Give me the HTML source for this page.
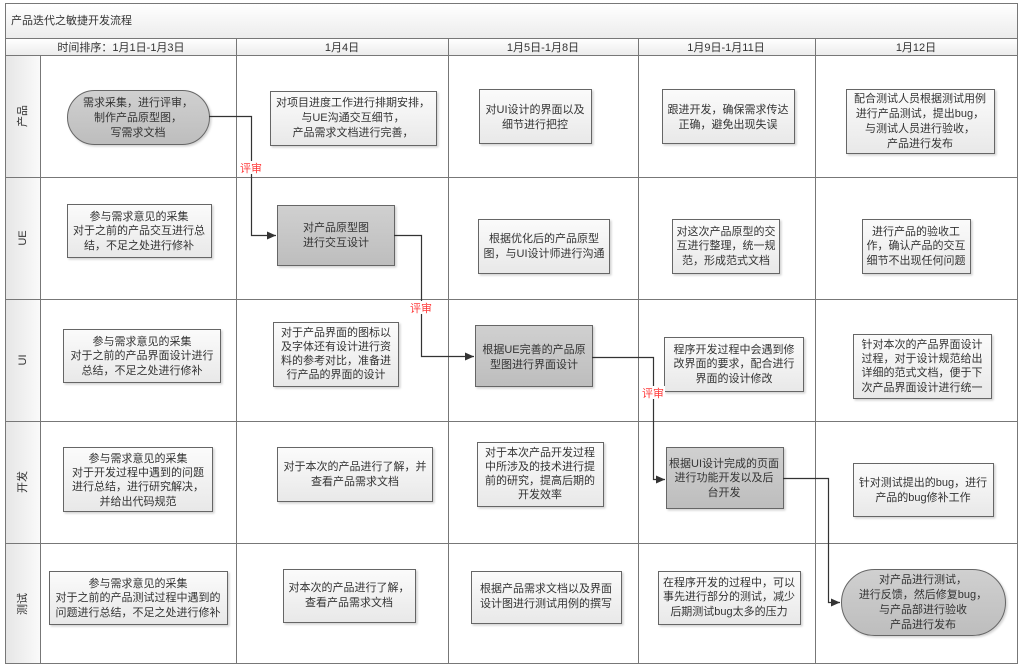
<!DOCTYPE html>
<html><head><meta charset="utf-8">
<style>
html,body{margin:0;padding:0;background:#fff;}
svg{display:block;}
text{font-family:"Liberation Sans","Noto Sans CJK SC",sans-serif;font-size:11px;fill:#333;}
</style></head><body>
<svg width="1024" height="669" viewBox="0 0 1024 669" xmlns="http://www.w3.org/2000/svg">
<defs>
<linearGradient id="tg" x1="0" y1="0" x2="0" y2="1"><stop offset="0" stop-color="#ffffff"/><stop offset="1" stop-color="#ececec"/></linearGradient>
<linearGradient id="lg" x1="0" y1="0" x2="1" y2="0"><stop offset="0" stop-color="#e6e6e6"/><stop offset="1" stop-color="#fafafa"/></linearGradient>
<linearGradient id="bg" x1="0" y1="0" x2="0" y2="1"><stop offset="0" stop-color="#fbfbfb"/><stop offset="1" stop-color="#e8e8e8"/></linearGradient>
<linearGradient id="gg" x1="0" y1="0" x2="0" y2="1"><stop offset="0" stop-color="#d0d0d0"/><stop offset="1" stop-color="#bdbdbd"/></linearGradient>
<filter id="sh" x="-10%" y="-10%" width="130%" height="140%"><feDropShadow dx="1.5" dy="1.5" stdDeviation="1" flood-color="#000" flood-opacity="0.18"/></filter>
<marker id="ar" markerWidth="10" markerHeight="10" refX="9" refY="5" orient="auto" markerUnits="userSpaceOnUse"><path d="M0,1 L9,5 L0,9 z" fill="#333"/></marker>
</defs>
<!-- frame -->
<rect x="5.5" y="3.5" width="1012" height="660" fill="#fff" stroke="#777"/>
<rect x="6" y="4" width="1011" height="34" fill="url(#tg)"/>
<text x="11" y="24" font-size="12">产品迭代之敏捷开发流程</text>
<rect x="6" y="39" width="1011" height="16" fill="url(#tg)"/>
<rect x="6" y="55" width="34" height="608" fill="url(#lg)"/>
<g stroke="#777" stroke-width="1" fill="none">
<line x1="5" y1="38.5" x2="1018" y2="38.5"/>
<line x1="5" y1="55.5" x2="1018" y2="55.5"/>
<line x1="5" y1="177.5" x2="1018" y2="177.5"/>
<line x1="5" y1="299.5" x2="1018" y2="299.5"/>
<line x1="5" y1="421.5" x2="1018" y2="421.5"/>
<line x1="5" y1="543.5" x2="1018" y2="543.5"/>
<line x1="40.5" y1="55" x2="40.5" y2="664"/>
<line x1="236.5" y1="38" x2="236.5" y2="664"/>
<line x1="448.5" y1="38" x2="448.5" y2="664"/>
<line x1="638.5" y1="38" x2="638.5" y2="664"/>
<line x1="815.5" y1="38" x2="815.5" y2="664"/>
</g>
<g text-anchor="middle">
<text x="121" y="51">时间排序：1月1日-1月3日</text>
<text x="342" y="51">1月4日</text>
<text x="543" y="51">1月5日-1月8日</text>
<text x="726" y="51">1月9日-1月11日</text>
<text x="916" y="51">1月12日</text>
<text transform="translate(26,116) rotate(-90)">产品</text>
<text transform="translate(26,238) rotate(-90)">UE</text>
<text transform="translate(26,360) rotate(-90)">UI</text>
<text transform="translate(26,482) rotate(-90)">开发</text>
<text transform="translate(26,604) rotate(-90)">测试</text>
</g>

<!-- boxes -->
<g stroke="#666" stroke-width="1" filter="url(#sh)">
<rect x="67.5" y="90.5" width="142" height="54" rx="27" fill="url(#gg)"/>
<rect x="270.5" y="91.5" width="166" height="54" fill="url(#bg)"/>
<rect x="479.5" y="89.5" width="112" height="54" fill="url(#bg)"/>
<rect x="662.5" y="89.5" width="132" height="54" fill="url(#bg)"/>
<rect x="846.5" y="89.5" width="148" height="64" fill="url(#bg)"/>

<rect x="67.5" y="204.5" width="144" height="53" fill="url(#bg)"/>
<rect x="277.5" y="205.5" width="117" height="60" fill="url(#gg)"/>
<rect x="478.5" y="219.5" width="131" height="54" fill="url(#bg)"/>
<rect x="672.5" y="219.5" width="107" height="54" fill="url(#bg)"/>
<rect x="862.5" y="219.5" width="108" height="54" fill="url(#bg)"/>

<rect x="63.5" y="329.5" width="157" height="53" fill="url(#bg)"/>
<rect x="273.5" y="322.5" width="125" height="64" fill="url(#bg)"/>
<rect x="475.5" y="325.5" width="117" height="61" fill="url(#gg)"/>
<rect x="664.5" y="337.5" width="139" height="54" fill="url(#bg)"/>
<rect x="853.5" y="334.5" width="138" height="64" fill="url(#bg)"/>

<rect x="63.5" y="447.5" width="149" height="64" fill="url(#bg)"/>
<rect x="277.5" y="447.5" width="155" height="54" fill="url(#bg)"/>
<rect x="477.5" y="442.5" width="126" height="64" fill="url(#bg)"/>
<rect x="666.5" y="447.5" width="117" height="61" fill="url(#gg)"/>
<rect x="853.5" y="463.5" width="140" height="53" fill="url(#bg)"/>

<rect x="49.5" y="571.5" width="178" height="53" fill="url(#bg)"/>
<rect x="283.5" y="569.5" width="132" height="53" fill="url(#bg)"/>
<rect x="471.5" y="571.5" width="150" height="52" fill="url(#bg)"/>
<rect x="658.5" y="571.5" width="142" height="53" fill="url(#bg)"/>
<rect x="841.5" y="569.5" width="164" height="66" rx="33" fill="url(#gg)"/>
</g>

<!-- connectors -->
<g stroke="#333" stroke-width="1.2" fill="none">
<polyline points="209,116.5 251.5,116.5 251.5,235.5 276,235.5" marker-end="url(#ar)"/>
<polyline points="394,235.5 421.5,235.5 421.5,356.5 474,356.5" marker-end="url(#ar)"/>
<polyline points="592,357.5 653.5,357.5 653.5,479.5 665,479.5" marker-end="url(#ar)"/>
<polyline points="783,478.5 828.5,478.5 828.5,602.5 840,602.5" marker-end="url(#ar)"/>
</g>
<g text-anchor="middle">
<rect x="240" y="161" width="23" height="13" fill="#fff"/>
<text x="251" y="172" style="fill:#ff3b3b">评审</text>
<rect x="410" y="301" width="23" height="13" fill="#fff"/>
<text x="421" y="312" style="fill:#ff3b3b">评审</text>
<rect x="642" y="386" width="23" height="13" fill="#fff"/>
<text x="653" y="397" style="fill:#ff3b3b">评审</text>
</g>

<!-- texts -->
<g text-anchor="middle">
<text x="138" y="106">需求采集，进行评审，</text>
<text x="138" y="121">制作产品原型图，</text>
<text x="138" y="136">写需求文档</text>

<text x="353" y="106">对项目进度工作进行排期安排，</text>
<text x="353" y="121">与UE沟通交互细节，</text>
<text x="353" y="136">产品需求文档进行完善，</text>

<text x="535" y="113">对UI设计的界面以及</text>
<text x="535" y="128">细节进行把控</text>

<text x="728" y="113">跟进开发，确保需求传达</text>
<text x="728" y="128">正确，避免出现失误</text>

<text x="920" y="102">配合测试人员根据测试用例</text>
<text x="920" y="117">进行产品测试，提出bug，</text>
<text x="920" y="132">与测试人员进行验收，</text>
<text x="920" y="147">产品进行发布</text>

<text x="139" y="220">参与需求意见的采集</text>
<text x="139" y="234">对于之前的产品交互进行总</text>
<text x="139" y="249">结，不足之处进行修补</text>

<text x="336" y="231">对产品原型图</text>
<text x="336" y="246">进行交互设计</text>

<text x="544" y="242">根据优化后的产品原型</text>
<text x="544" y="257">图，与UI设计师进行沟通</text>

<text x="726" y="235">对这次产品原型的交</text>
<text x="726" y="249">互进行整理，统一规</text>
<text x="726" y="264">范，形成范式文档</text>

<text x="916" y="235">进行产品的验收工</text>
<text x="916" y="249">作，确认产品的交互</text>
<text x="916" y="264">细节不出现任何问题</text>

<text x="142" y="345">参与需求意见的采集</text>
<text x="142" y="359">对于之前的产品界面设计进行</text>
<text x="142" y="374">总结，不足之处进行修补</text>

<text x="336" y="336">对于产品界面的图标以</text>
<text x="336" y="350">及字体还有设计进行资</text>
<text x="336" y="364">料的参考对比，准备进</text>
<text x="336" y="378">行产品的界面的设计</text>

<text x="534" y="353">根据UE完善的产品原</text>
<text x="534" y="368">型图进行界面设计</text>

<text x="734" y="353">程序开发过程中会遇到修</text>
<text x="734" y="367">改界面的要求，配合进行</text>
<text x="734" y="382">界面的设计修改</text>

<text x="922" y="348">针对本次的产品界面设计</text>
<text x="922" y="362">过程，对于设计规范给出</text>
<text x="922" y="376">详细的范式文档，便于下</text>
<text x="922" y="391">次产品界面设计进行统一</text>

<text x="138" y="462">参与需求意见的采集</text>
<text x="138" y="476">对于开发过程中遇到的问题</text>
<text x="138" y="490">进行总结，进行研究解决，</text>
<text x="138" y="505">并给出代码规范</text>

<text x="355" y="470">对于本次的产品进行了解，并</text>
<text x="355" y="485">查看产品需求文档</text>

<text x="540" y="456">对于本次产品开发过程</text>
<text x="540" y="470">中所涉及的技术进行提</text>
<text x="540" y="484">前的研究，提高后期的</text>
<text x="540" y="498">开发效率</text>

<text x="724" y="467">根据UI设计完成的页面</text>
<text x="724" y="481">进行功能开发以及后</text>
<text x="724" y="496">台开发</text>

<text x="923" y="486">针对测试提出的bug，进行</text>
<text x="923" y="501">产品的bug修补工作</text>

<text x="138" y="587">参与需求意见的采集</text>
<text x="138" y="601">对于之前的产品测试过程中遇到的</text>
<text x="138" y="616">问题进行总结，不足之处进行修补</text>

<text x="349" y="591">对本次的产品进行了解，</text>
<text x="349" y="606">查看产品需求文档</text>

<text x="546" y="592">根据产品需求文档以及界面</text>
<text x="546" y="607">设计图进行测试用例的撰写</text>

<text x="729" y="586">在程序开发的过程中，可以</text>
<text x="729" y="600">事先进行部分的测试，减少</text>
<text x="729" y="615">后期测试bug太多的压力</text>

<text x="923" y="583">对产品进行测试，</text>
<text x="923" y="598">进行反馈，然后修复bug，</text>
<text x="923" y="613">与产品部进行验收</text>
<text x="923" y="628">产品进行发布</text>
</g>
</svg>
</body></html>
